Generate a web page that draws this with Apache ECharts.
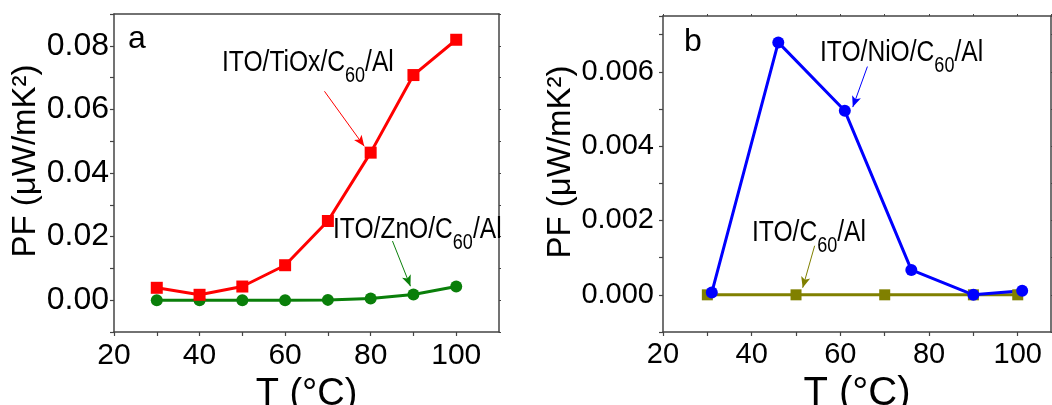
<!DOCTYPE html>
<html>
<head>
<meta charset="utf-8">
<script src="https://cdn.jsdelivr.net/npm/echarts@6/dist/echarts.min.js"></script>
<style>
  html, body { margin: 0; padding: 0; background: #fff; }
  #chart { width: 1052px; height: 405px; }
</style>
</head>
<body>
<div id="chart"></div>
<script>
var chart = echarts.init(document.getElementById('chart'));

// panel a
var tempA = [30, 40, 50, 60, 70, 80, 90, 100];
var tioxPF = [0.0039, 0.0017, 0.0043, 0.0110, 0.0249, 0.0464, 0.0708, 0.0819];
var znoPF = [0.0000, 0.0000, 0.0000, 0.0000, 0.0001, 0.0005, 0.0018, 0.0043];
var yTicksA = [0, 0.02, 0.04, 0.06, 0.08];

// panel b
var tempNiO = [31, 46, 61, 76, 90, 101];
var nioPF = [0.00006, 0.00679, 0.00495, 0.00067, 0.0, 0.00011];
var tempC60 = [30, 50, 70, 90, 100];
var c60PF = [0, 0, 0, 0, 0];
var yTicksB = [0, 0.002, 0.004, 0.006];

var xTicks = [20, 40, 60, 80, 100];

function pairs(xs, ys) {
  return xs.map(function (x, i) { return [x, ys[i]]; });
}

function pick(list, digits) {
  return function (v) {
    for (var i = 0; i < list.length; i++) {
      if (Math.abs(list[i] - v) < 1e-9) return list[i].toFixed(digits);
    }
    return '';
  };
}

var axisColor = '#444';
var sans = '"Liberation Sans", Arial, sans-serif';

function xAxisMain(grid, max, fs, margin, nameSize, gap) {
  return {
    type: 'value', gridIndex: grid, min: 20, max: max, interval: 10,
    name: 'T (°C)', nameLocation: 'middle', nameGap: gap,
    nameTextStyle: { fontFamily: sans, fontSize: nameSize, color: '#000' },
    axisLine: { onZero: false, lineStyle: { color: axisColor, width: 1.5 } },
    axisTick: { inside: false, length: 4, lineStyle: { color: axisColor, width: 1.2 } },
    axisLabel: { fontFamily: sans, fontSize: fs, color: '#000', margin: margin,
      showMaxLabel: false, formatter: pick(xTicks, 0) },
    splitLine: { show: false }
  };
}

function xAxisMirror(grid, max, tick) {
  return {
    type: 'value', gridIndex: grid, position: 'top', min: 20, max: max, interval: 10,
    axisLine: { onZero: false, lineStyle: { color: axisColor, width: 1.5 } },
    axisTick: { show: tick, length: 2, lineStyle: { color: axisColor } },
    axisLabel: { show: false }, splitLine: { show: false }
  };
}

function yAxisMain(grid, min, max, interval, ticks, digits, fs, margin, gap) {
  return {
    type: 'value', gridIndex: grid, min: min, max: max, interval: interval,
    name: 'PF (μW/mK²)', nameLocation: 'middle', nameGap: gap,
    nameTextStyle: { fontFamily: sans, fontSize: 33, color: '#000', padding: [0, 0, 0, 24] },
    axisLine: { show: true, onZero: false, lineStyle: { color: axisColor, width: 1.5 } },
    axisTick: { show: true, inside: false, length: 4, lineStyle: { color: axisColor, width: 1.2 } },
    axisLabel: { fontFamily: sans, fontSize: fs, color: '#000', margin: margin,
      formatter: pick(ticks, digits) },
    splitLine: { show: false }
  };
}

function yAxisMirror(grid, min, max, interval) {
  return {
    type: 'value', gridIndex: grid, position: 'right', min: min, max: max, interval: interval,
    axisLine: { show: true, onZero: false, lineStyle: { color: axisColor, width: 1.5 } },
    axisTick: { show: true, length: 2, lineStyle: { color: axisColor } },
    axisLabel: { show: false }, splitLine: { show: false }
  };
}

function arrow(color, from, to) {
  return {
    silent: true,
    symbol: ['none', 'arrow'],
    symbolSize: [7, 11],
    label: { show: false },
    lineStyle: { color: color, width: 1, type: 'solid' },
    data: [[{ coord: from }, { coord: to }]]
  };
}

var rich = {
  m: { fontFamily: sans, fontSize: 30, lineHeight: 30, fill: '#000', verticalAlign: 'top' },
  s: { fontFamily: sans, fontSize: 22, lineHeight: 22, fill: '#000', verticalAlign: 'top', padding: [17, 0, 0, 0] }
};

// labels drawn a little condensed, like the original figure
function note(x, y, text) {
  return { type: 'text', x: x, y: y, scaleX: 0.82, z: 10,
    style: { text: text, rich: rich, fill: '#000', align: 'left', verticalAlign: 'top' } };
}

var option = {
  backgroundColor: '#fff',
  animation: false,
  grid: [
    { left: 114, top: 14, width: 385, height: 318, outerBoundsMode: 'none', containLabel: false },
    { left: 663, top: 16, width: 388, height: 316, outerBoundsMode: 'none', containLabel: false }
  ],
  xAxis: [
    xAxisMain(0, 110, 30, 9, 38, 34),
    xAxisMirror(0, 110, false),
    xAxisMain(1, 107.5, 29, 8, 40, 29),
    xAxisMirror(1, 107.5, true)
  ],
  yAxis: [
    yAxisMain(0, -0.01, 0.09, 0.01, yTicksA, 2, 32, 5, 58),
    yAxisMirror(0, -0.01, 0.09, 0.01),
    yAxisMain(1, -0.001, 0.0075, 0.001, yTicksB, 3, 29, 9, 85),
    yAxisMirror(1, -0.001, 0.0075, 0.001)
  ],
  series: [
    {
      name: 'ITO/ZnO/C60/Al', type: 'line', xAxisIndex: 0, yAxisIndex: 0,
      data: pairs(tempA, znoPF), symbol: 'circle', symbolSize: 12,
      itemStyle: { color: '#0a7f0a' }, lineStyle: { color: '#0a7f0a', width: 3 },
      markLine: arrow('#0a7f0a', [85.1, 0.0186], [89.3, 0.0044])
    },
    {
      name: 'ITO/TiOx/C60/Al', type: 'line', xAxisIndex: 0, yAxisIndex: 0,
      data: pairs(tempA, tioxPF), symbol: 'rect', symbolSize: 12,
      itemStyle: { color: '#ff0000' }, lineStyle: { color: '#ff0000', width: 3 },
      markLine: arrow('#ff0000', [69.2, 0.0657], [78.5, 0.0484])
    },
    {
      name: 'ITO/C60/Al', type: 'line', xAxisIndex: 2, yAxisIndex: 2,
      data: pairs(tempC60, c60PF), symbol: 'rect', symbolSize: 11,
      itemStyle: { color: '#808000' }, lineStyle: { color: '#808000', width: 3 },
      markLine: arrow('#808000', [54.2, 0.00132], [51.5, 0.00019])
    },
    {
      name: 'ITO/NiO/C60/Al', type: 'line', xAxisIndex: 2, yAxisIndex: 2,
      data: pairs(tempNiO, nioPF), symbol: 'circle', symbolSize: 12,
      itemStyle: { color: '#0000ff' }, lineStyle: { color: '#0000ff', width: 3 },
      markLine: arrow('#0000ff', [66.1, 0.00614], [62.8, 0.00505])
    }
  ],
  graphic: [
    { type: 'text', left: 128, top: 23, style: { text: 'a', fontFamily: sans, fontSize: 32, fill: '#000' } },
    { type: 'text', left: 684, top: 26, style: { text: 'b', fontFamily: sans, fontSize: 32, fill: '#000' } },
    note(222, 48, '{m|ITO/TiOx/C}{s|60}{m|/Al}'),
    note(333, 215, '{m|ITO/ZnO/C}{s|60}{m|/Al}'),
    note(820, 38, '{m|ITO/NiO/C}{s|60}{m|/Al}'),
    note(752, 218, '{m|ITO/C}{s|60}{m|/Al}')
  ]
};

chart.setOption(option);
</script>
</body>
</html>
